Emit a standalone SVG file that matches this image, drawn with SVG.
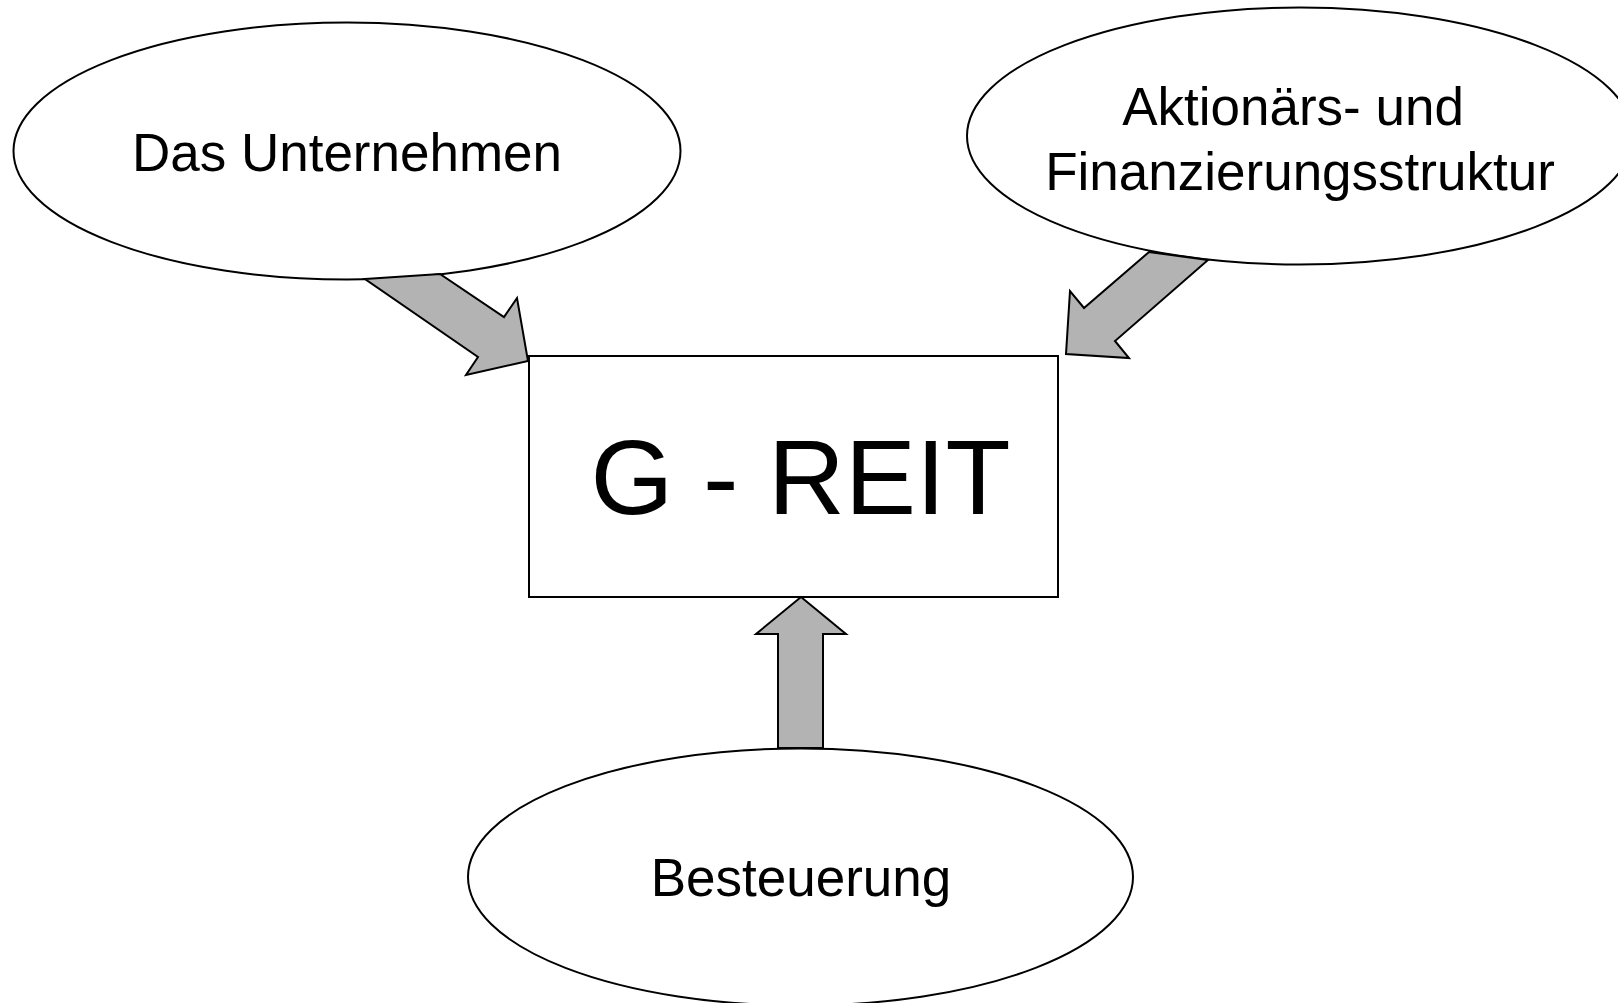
<svg xmlns="http://www.w3.org/2000/svg" width="1618" height="1003" viewBox="0 0 1618 1003">
<style>
.node{fill:#ffffff;stroke:#000000;stroke-width:2}
.arrow{fill:#b3b3b3;stroke:#000000;stroke-width:2;stroke-linejoin:miter}
.lbl{font-family:"Liberation Sans",Arial,sans-serif;font-size:53px;fill:#000000;text-anchor:middle}
.big{font-family:"Liberation Sans",Arial,sans-serif;font-size:106.5px;fill:#000000}
</style>
<rect width="1618" height="1003" fill="#ffffff"/>
<g id="node-unternehmen">
<ellipse class="node" cx="347" cy="151" rx="333.5" ry="128.5"/>
<text class="lbl" x="347" y="170.5">Das Unternehmen</text>
</g>
<g id="node-aktionaers">
<ellipse class="node" cx="1300" cy="136" rx="333" ry="128.5"/>
<text class="lbl" x="1293" y="125">Aktionärs- und</text>
<text class="lbl" x="1300" y="190">Finanzierungsstruktur</text>
</g>
<g id="node-besteuerung">
<ellipse class="node" cx="800.5" cy="877" rx="332.5" ry="128.5"/>
<text class="lbl" x="801" y="895.5">Besteuerung</text>
</g>
<g id="node-greit">
<rect class="node" x="529" y="356" width="529" height="241"/>
<text class="big" x="590.5" y="514">G - REIT</text>
</g>
<g id="connectors">
<polygon class="arrow" points="365,279 440,274 504,317 517,298 528,361 466,375 478,357"/>
<polygon class="arrow" points="1149,252 1208,260 1115,341 1129,358 1066,354 1070,291 1084,308"/>
<polygon class="arrow" points="801,597 846,634 823,634 823,748 778,748 778,634 756,634"/>
</g>
</svg>
